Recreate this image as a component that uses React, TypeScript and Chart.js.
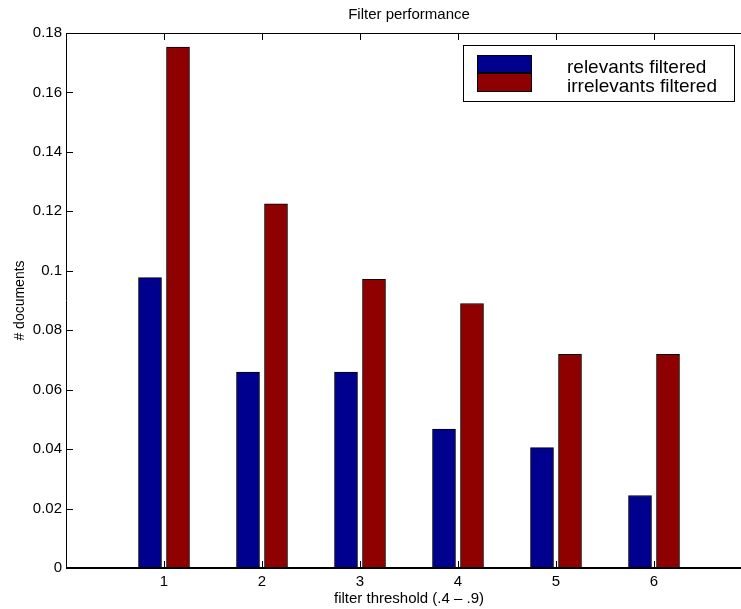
import { useEffect, useRef } from 'react';
import { Chart, registerables } from 'chart.js';

Chart.register(...registerables);

const chartTitle = 'Filter performance';
const xAxisLabel = 'filter threshold (.4 – .9)';
const yAxisLabel = '# documents';
const categories = [1, 2, 3, 4, 5, 6];
const relevantsFiltered = [0.0977, 0.0659, 0.0659, 0.0467, 0.0405, 0.0244];
const irrelevantsFiltered = [0.1753, 0.1225, 0.0971, 0.089, 0.0719, 0.0719];
const seriesNames = ['relevants filtered', 'irrelevants filtered'];
const seriesColors = ['#00008F', '#8F0000'];
const xRange = [0, 7];
const yTicks = [0, 0.02, 0.04, 0.06, 0.08, 0.1, 0.12, 0.14, 0.16, 0.18];

const FONT = '"Liberation Sans", Arial, Helvetica, sans-serif';

const matlabPlugin = {
  id: 'matlabPlugin',
  afterDraw(chart: any) {
    const { ctx, chartArea: a, scales } = chart;
    const xs = scales.x;
    const ys = scales.y;
    ctx.save();
    ctx.strokeStyle = '#000';
    ctx.lineWidth = 1;
    ctx.beginPath();
    ctx.moveTo(a.left + 0.5, a.top);
    ctx.lineTo(a.left + 0.5, a.bottom);
    ctx.moveTo(a.left, a.top + 0.5);
    ctx.lineTo(a.right, a.top + 0.5);
    ctx.moveTo(a.right - 0.5, a.top);
    ctx.lineTo(a.right - 0.5, a.bottom);
    // y ticks (inward, both sides)
    yTicks.forEach((v) => {
      const py = Math.round(ys.getPixelForValue(v)) + 0.5;
      ctx.moveTo(a.left, py);
      ctx.lineTo(a.left + 7, py);
      ctx.moveTo(a.right, py);
      ctx.lineTo(a.right - 7, py);
    });
    // x ticks (inward, top and bottom)
    categories.forEach((c) => {
      const px = Math.round(xs.getPixelForValue(c)) + 0.5;
      ctx.moveTo(px, a.bottom);
      ctx.lineTo(px, a.bottom - 7);
      ctx.moveTo(px, a.top);
      ctx.lineTo(px, a.top + 7);
    });
    ctx.stroke();
    // bottom axis (baseline)
    ctx.lineWidth = 2;
    ctx.beginPath();
    ctx.moveTo(a.left, a.bottom);
    ctx.lineTo(a.right, a.bottom);
    ctx.stroke();

    // title
    ctx.fillStyle = '#000';
    ctx.font = `15px ${FONT}`;
    ctx.textAlign = 'center';
    ctx.textBaseline = 'middle';
    ctx.fillText(chartTitle, (a.left + a.right) / 2, 15);

    // legend
    const lx = 463, ly = 45, lw = 272, lh = 57;
    ctx.fillStyle = '#fff';
    ctx.fillRect(lx, ly, lw, lh);
    ctx.lineWidth = 1;
    ctx.strokeStyle = '#000';
    ctx.strokeRect(lx + 0.5, ly + 0.5, lw - 1, lh - 1);
    const sx = 477, sw = 55;
    const rows = [
      { top: 55, h: 18, base: 73 },
      { top: 73, h: 19, base: 92 },
    ];
    ctx.font = `19px ${FONT}`;
    ctx.textAlign = 'left';
    ctx.textBaseline = 'alphabetic';
    seriesNames.forEach((name, i) => {
      const r = rows[i];
      ctx.fillStyle = seriesColors[i];
      ctx.fillRect(sx, r.top, sw, r.h);
      ctx.strokeStyle = '#000';
      ctx.strokeRect(sx + 0.5, r.top + 0.5, sw - 1, r.h - 1);
      ctx.fillStyle = '#000';
      ctx.fillText(name, 567, r.base);
    });
    ctx.restore();
  },
};

export default function App() {
  const ref = useRef<HTMLCanvasElement | null>(null);
  useEffect(() => {
    if (!ref.current) return;
    const chart = new Chart(ref.current, {
      type: 'bar',
      data: {
        datasets: [
          {
            label: seriesNames[0],
            data: categories.map((c, i) => ({ x: c, y: relevantsFiltered[i] })),
            backgroundColor: seriesColors[0],
            borderColor: '#000',
            borderWidth: 1,
            borderSkipped: 'start',
            barThickness: 28,
            maxBarThickness: 23,
          },
          {
            label: seriesNames[1],
            data: categories.map((c, i) => ({ x: c, y: irrelevantsFiltered[i] })),
            backgroundColor: seriesColors[1],
            borderColor: '#000',
            borderWidth: 1,
            borderSkipped: 'start',
            barThickness: 28,
            maxBarThickness: 23,
          },
        ],
      },
      options: {
        animation: false,
        responsive: true,
        maintainAspectRatio: false,
        layout: { padding: { left: 0, top: 33, right: 8, bottom: 0 } },
        plugins: {
          legend: { display: false },
          title: { display: false },
          tooltip: { enabled: false },
        },
        scales: {
          x: {
            type: 'linear',
            min: xRange[0],
            max: xRange[1],
            offset: false,
            grid: { display: false, drawTicks: false },
            border: { display: false },
            afterBuildTicks: (scale: any) => {
              scale.ticks = categories.map((c) => ({ value: c }));
            },
            afterFit: (scale: any) => {
              scale.height = 41;
            },
            ticks: {
              color: '#000',
              font: { family: FONT, size: 15 },
              padding: 5,
              maxRotation: 0,
              autoSkip: false,
              callback: (v: any) => String(v),
            },
            title: {
              display: true,
              text: xAxisLabel,
              color: '#000',
              font: { family: FONT, size: 15 },
              padding: { top: 0, bottom: 1 },
            },
          },
          y: {
            min: 0,
            max: yTicks[yTicks.length - 1],
            grid: { display: false, drawTicks: false },
            border: { display: false },
            afterBuildTicks: (scale: any) => {
              scale.ticks = yTicks.map((v) => ({ value: v }));
            },
            afterFit: (scale: any) => {
              scale.width = 66;
            },
            ticks: {
              color: '#000',
              font: { family: FONT, size: 15 },
              padding: 4,
              callback: (v: any) => String(Math.round(Number(v) * 100) / 100),
            },
            title: {
              display: true,
              text: yAxisLabel,
              color: '#000',
              font: { family: FONT, size: 14 },
              padding: { top: 12, bottom: 0 },
            },
          },
        },
      },
      plugins: [matlabPlugin],
    } as any);
    return () => chart.destroy();
  }, []);

  return (
    <div
      style={{
        position: 'fixed',
        left: 0,
        top: 0,
        width: 741,
        height: 609,
        overflow: 'hidden',
        background: '#fff',
      }}
    >
      <div style={{ position: 'relative', width: 760, height: 609 }}>
        <canvas ref={ref} />
      </div>
    </div>
  );
}
